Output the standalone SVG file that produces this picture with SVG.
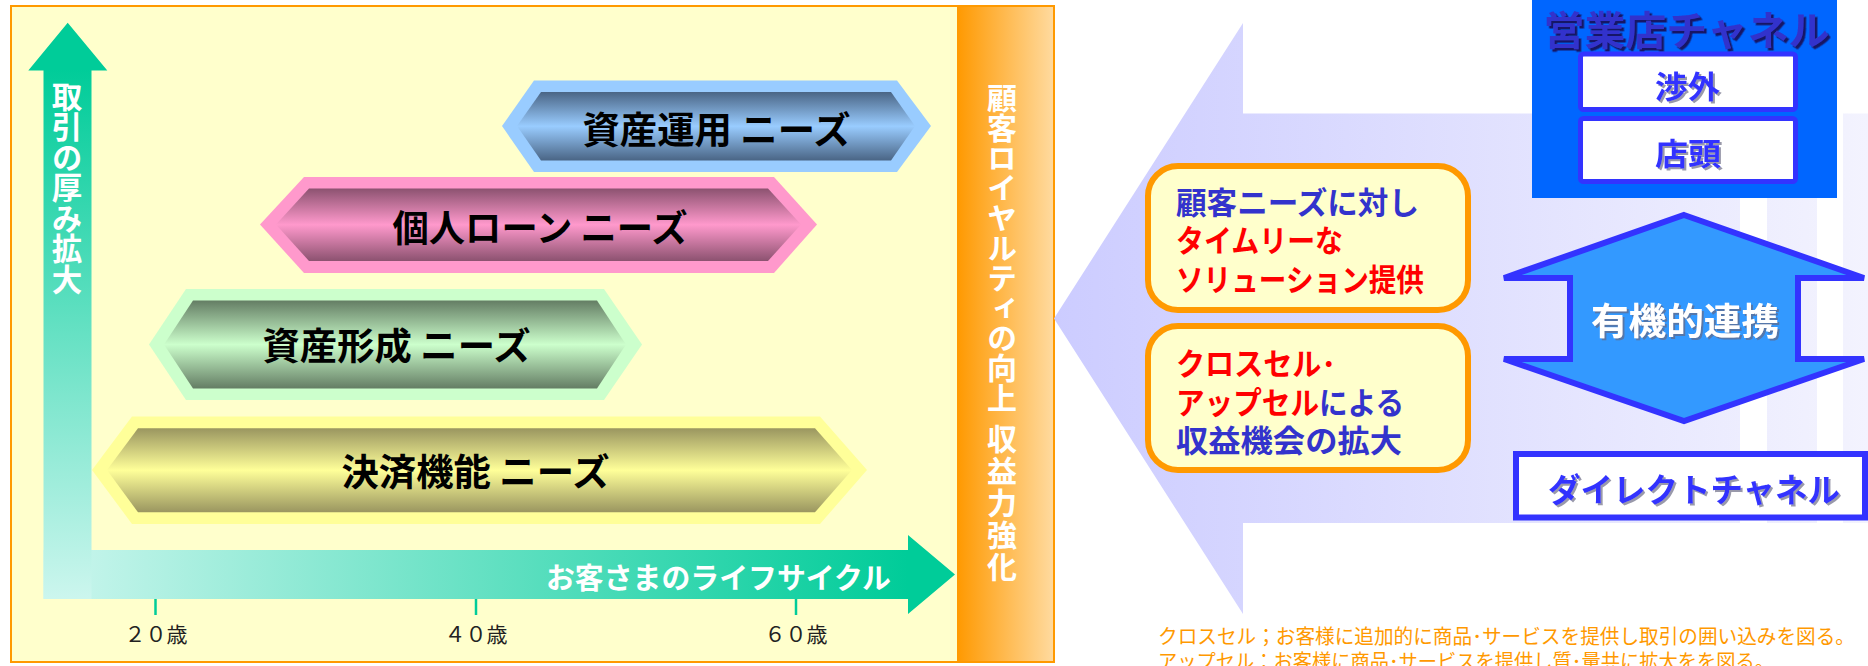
<svg xmlns="http://www.w3.org/2000/svg" width="1868" height="666" viewBox="0 0 1868 666">
<style>
  text { font-family: "Noto Sans CJK JP", "Noto Sans", sans-serif; }
  .b { font-weight: 700; }
  .hex { font-size: 37px; font-weight: 700; fill: #000; }
  .vt { font-size: 30px; font-weight: 700; fill: #fff; writing-mode: vertical-rl; }
  .tick { stroke: #00CC99; stroke-width: 2.5; }
  .age { font-size: 21px; fill: #222; text-anchor: middle; }
  .box { fill: #FFFFCC; stroke: #FF9900; stroke-width: 6; }
  .bt { font-size: 31px; font-weight: 700; }
  .blue { fill: #3333CC; }
  .red { fill: #FF0000; }
  .wbox { fill: #fff; stroke: #3333FF; stroke-width: 5; }
  .ch { font-weight: 700; fill: #3333FF; filter: url(#shGray); }
  .note { font-size: 20px; fill: #FF9900; }
</style>
<defs>
  <filter id="shGray" x="-10%" y="-20%" width="130%" height="150%">
    <feDropShadow dx="2" dy="2" stdDeviation="0" flood-color="#9999AA"/>
  </filter>
  <filter id="shDark" x="-10%" y="-20%" width="130%" height="150%">
    <feDropShadow dx="2.5" dy="2.5" stdDeviation="0" flood-color="#141466"/>
  </filter>
  <filter id="shBlue" x="-10%" y="-20%" width="130%" height="150%">
    <feDropShadow dx="2" dy="2" stdDeviation="0" flood-color="#5577AA"/>
  </filter>
  <linearGradient id="gBand" x1="0" y1="0" x2="1" y2="0">
    <stop offset="0" stop-color="#FF9900"/>
    <stop offset="1" stop-color="#FFDA9E"/>
  </linearGradient>
  <linearGradient id="gUp" gradientUnits="userSpaceOnUse" x1="0" y1="69" x2="0" y2="599">
    <stop offset="0" stop-color="#00CC99"/>
    <stop offset="1" stop-color="#CCF6EE"/>
  </linearGradient>
  <linearGradient id="gRight" gradientUnits="userSpaceOnUse" x1="44" y1="0" x2="908" y2="0">
    <stop offset="0" stop-color="#CCF6EE"/>
    <stop offset="1" stop-color="#00CC99"/>
  </linearGradient>
  <linearGradient id="gBlue" x1="0" y1="0" x2="0" y2="1">
    <stop offset="0" stop-color="#4A6585"/>
    <stop offset="0.5" stop-color="#99CCFF"/>
    <stop offset="1" stop-color="#4A6585"/>
  </linearGradient>
  <linearGradient id="gPink" x1="0" y1="0" x2="0" y2="1">
    <stop offset="0" stop-color="#8C5270"/>
    <stop offset="0.5" stop-color="#FF99CC"/>
    <stop offset="1" stop-color="#8C5270"/>
  </linearGradient>
  <linearGradient id="gGreen" x1="0" y1="0" x2="0" y2="1">
    <stop offset="0" stop-color="#647D64"/>
    <stop offset="0.5" stop-color="#CCFFCC"/>
    <stop offset="1" stop-color="#647D64"/>
  </linearGradient>
  <linearGradient id="gYellow" x1="0" y1="0" x2="0" y2="1">
    <stop offset="0" stop-color="#9A9660"/>
    <stop offset="0.5" stop-color="#FFFF99"/>
    <stop offset="1" stop-color="#9A9660"/>
  </linearGradient>
  <linearGradient id="gBig" gradientUnits="userSpaceOnUse" x1="1054" y1="0" x2="1868" y2="0">
    <stop offset="0" stop-color="#CCCCFF"/>
    <stop offset="1" stop-color="#F3F3FE"/>
  </linearGradient>
</defs>

<rect x="0" y="0" width="1868" height="666" fill="#fff"/>

<g id="panel">
  <rect x="11" y="6" width="1043" height="656" fill="#FFFFCC"/>
</g>

<g id="band">
  <rect x="957" y="7" width="96" height="654" fill="url(#gBand)"/>
  <text class="vt" x="1002" y="83">顧客ロイヤルティの向上</text>
  <text class="vt" x="1002" y="424" style="letter-spacing:2px">収益力強化</text>
</g>

<rect id="panel-border" x="11" y="6" width="1043" height="656" fill="none" stroke="#FF9900" stroke-width="2"/>

<g id="connectors">
  <polygon points="43.5,550 908,550 908,535 955,574.5 908,614 908,599 43.5,599" fill="url(#gRight)"/>
  <polygon points="28.3,70.5 67.7,22.7 107.3,70.5 91.5,70.5 91.5,599 43.5,599 43.5,70.5" fill="url(#gUp)"/>
  <text class="vt" x="67" y="81" style="font-size:30.5px">取引の厚み拡大</text>
  <text class="b" x="546" y="589" font-size="29" fill="#fff" textLength="345" lengthAdjust="spacingAndGlyphs">お客さまのライフサイクル</text>
  <g id="big-arrow">
    <polygon points="1054,318.5 1243,23 1243,113.5 1740,113.5 1740,523 1243,523 1243,614" fill="url(#gBig)"/>
    <rect x="1767" y="113.5" width="50" height="409.5" fill="url(#gBig)"/>
    <rect x="1843" y="113.5" width="25" height="409.5" fill="url(#gBig)"/>
  </g>
</g>

<g id="ticks">
  <line class="tick" x1="155.5" y1="599" x2="155.5" y2="615"/>
  <line class="tick" x1="476" y1="599" x2="476" y2="615"/>
  <line class="tick" x1="796" y1="599" x2="796" y2="615"/>
  <text class="age" x="156" y="642">２０歳</text>
  <text class="age" x="476" y="642">４０歳</text>
  <text class="age" x="796" y="642">６０歳</text>
</g>

<g id="need-asset-management">
  <polygon points="502,126 534,80.5 897,80.5 931,126 897,172 534,172" fill="#99CCFF"/>
  <polygon points="517,126 541,92 891,92 915,126 891,160.5 541,160.5" fill="url(#gBlue)"/>
  <text class="hex" x="582.5" y="144" textLength="268" lengthAdjust="spacingAndGlyphs">資産運用 ニーズ</text>
</g>

<g id="need-personal-loan">
  <polygon points="260,224.5 304,177 774,177 817,224.5 774,273 304,273" fill="#FF99CC"/>
  <polygon points="276,224.5 309,188.5 768,188.5 801,224.5 768,261 309,261" fill="url(#gPink)"/>
  <text class="hex" x="392.5" y="242" textLength="295" lengthAdjust="spacingAndGlyphs">個人ローン ニーズ</text>
</g>

<g id="need-asset-building">
  <polygon points="149,344.5 186,289 604,289 642,344.5 604,400 186,400" fill="#CCFFCC"/>
  <polygon points="164,344.5 193,300.5 597,300.5 626,344.5 597,388.5 193,388.5" fill="url(#gGreen)"/>
  <text class="hex" x="262.5" y="360" textLength="268" lengthAdjust="spacingAndGlyphs">資産形成 ニーズ</text>
</g>

<g id="need-settlement">
  <polygon points="92,470 132,416.5 820,416.5 867,470 820,524 132,524" fill="#FFFF99"/>
  <polygon points="107,470 138,428.3 815,428.3 852,470 815,512.3 138,512.3" fill="url(#gYellow)"/>
  <text class="hex" x="341.5" y="486" textLength="268" lengthAdjust="spacingAndGlyphs">決済機能 ニーズ</text>
</g>

<g id="box-solution">
  <rect class="box" x="1148" y="166" width="320" height="144" rx="30"/>
  <text class="bt blue" x="1176" y="214" textLength="243" lengthAdjust="spacingAndGlyphs">顧客ニーズに対し</text>
  <text class="bt red" x="1176" y="252" textLength="167" lengthAdjust="spacingAndGlyphs">タイムリーな</text>
  <text class="bt red" x="1176" y="290.5" textLength="248" lengthAdjust="spacingAndGlyphs">ソリューション提供</text>
</g>

<g id="box-cross-sell">
  <rect class="box" x="1148" y="326" width="320" height="144" rx="30"/>
  <text class="bt red" x="1176" y="375" textLength="160" lengthAdjust="spacingAndGlyphs">クロスセル･</text>
  <text class="bt" x="1176" y="414" textLength="228" lengthAdjust="spacingAndGlyphs"><tspan class="red">アップセル</tspan><tspan class="blue">による</tspan></text>
  <text class="bt blue" x="1176" y="452" textLength="226" lengthAdjust="spacingAndGlyphs">収益機会の拡大</text>
</g>

<g id="branch-channel">
  <rect x="1532" y="0" width="305" height="198" fill="#0066FF"/>
  <text class="b" x="1543.5" y="45" font-size="40" fill="#3333CC" filter="url(#shDark)" textLength="286" lengthAdjust="spacingAndGlyphs">営業店チャネル</text>
  <g id="sales-visit">
    <rect class="wbox" x="1580.5" y="54" width="215" height="55.5" rx="3"/>
    <text class="ch" x="1655" y="97.5" font-size="31" textLength="65" lengthAdjust="spacingAndGlyphs">渉外</text>
  </g>
  <g id="counter">
    <rect class="wbox" x="1580.5" y="118.5" width="215" height="63" rx="3"/>
    <text class="ch" x="1655" y="164.5" font-size="31" textLength="66" lengthAdjust="spacingAndGlyphs">店頭</text>
  </g>
</g>

<g id="organic-link">
  <polygon points="1684,215 1864,278 1798,278 1798,359 1864,359 1684,421 1504,359 1570,359 1570,278 1504,278" fill="#3399FF" stroke="#3333FF" stroke-width="6"/>
  <text class="b" x="1591" y="335" font-size="37" fill="#fff" filter="url(#shBlue)" textLength="188" lengthAdjust="spacingAndGlyphs">有機的連携</text>
</g>

<g id="direct-channel">
  <rect x="1516" y="454" width="349" height="63.5" fill="#fff" stroke="#3333FF" stroke-width="6"/>
  <text class="ch" x="1548" y="502" font-size="33" textLength="292" lengthAdjust="spacingAndGlyphs">ダイレクトチャネル</text>
</g>

<g id="footnote">
  <text class="note" x="1158" y="644" textLength="697" lengthAdjust="spacingAndGlyphs">クロスセル；お客様に追加的に商品･サービスを提供し取引の囲い込みを図る。</text>
  <text class="note" x="1158" y="669" textLength="616" lengthAdjust="spacingAndGlyphs">アップセル：お客様に商品･サービスを提供し質･量共に拡大をを図る。</text>
</g>
</svg>
